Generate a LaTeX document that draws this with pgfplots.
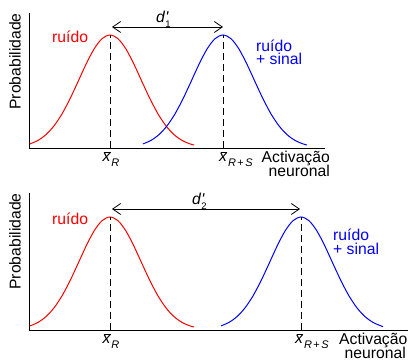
\documentclass[border=0pt]{standalone}
\usepackage{fontspec}
\setmainfont{Liberation Sans}
\usepackage{pgfplots}
\pgfplotsset{compat=1.18}
\usetikzlibrary{arrows.meta}
\newcommand{\lbl}{\fontsize{15.7}{18}\selectfont}
\newcommand{\subs}[1]{\raisebox{-4.5pt}{\fontsize{11}{13}\selectfont #1}}
\newcommand{\xbar}{\makebox[0pt][l]{\kern1.8pt\raisebox{9.6pt}{\rule{6.2pt}{0.8pt}}}\textit{x}}
\newcommand{\xR}{\xbar\kern0.5pt\subs{\textit{R}}}
\newcommand{\xRS}{\xbar\kern0.5pt\subs{\textit{R}\kern1.5pt+\kern1.5pt\textit{S}}}
\newcommand{\dprime}[1]{\textit{d}\rlap{\raisebox{0.5pt}{\textit{\textquotesingle}}}\raisebox{-4.5pt}{\fontsize{9.5}{11}\selectfont #1}}
\begin{document}
\begin{tikzpicture}[x=1pt,y=1pt]
\useasboundingbox (0,0) rectangle (408,361);
\pgfplotsset{every axis/.append style={scale only axis, axis lines=left,
  axis line style={-, line width=0.8pt}, ticks=none, clip=false,
  ymin=0, xmin=0}}
% ---------- top panel ----------
\begin{axis}[at={(29pt,213pt)}, anchor=south west, width=296pt, height=135pt,
  xmax=296, ymax=135]
\addplot[red, line width=1pt, smooth] coordinates {
(1,4.1) (9,7.6) (17,13.4) (25,22.1) (33,34.1) (41,49.2) (49,66.3) (57,83.7) (65,98.9) (73,109.3) (81,113)
(89,109.3) (97,98.9) (105,83.7) (113,66.3) (121,49.2) (129,34.1) (137,22.1) (145,13.4) (153,7.6) (161,4.1) (165,3.0)};
\addplot[blue, line width=1pt, smooth] coordinates {
(114,4.1) (122,7.6) (130,13.4) (138,22.1) (146,34.1) (154,49.2) (162,66.3) (170,83.7) (178,98.9) (186,109.3) (194,113)
(202,109.3) (210,98.9) (218,83.7) (226,66.3) (234,49.2) (242,34.1) (250,22.1) (258,13.4) (266,7.6) (274,4.1) (278,3.0)};
\addplot[black, line width=0.9pt, dash pattern=on 7pt off 4pt] coordinates {(81,0) (81,113)};
\addplot[black, line width=0.9pt, dash pattern=on 7pt off 4pt] coordinates {(194,0) (194,113)};
\draw[line width=0.8pt, {Straight Barb[length=8pt,width=11pt]}-{Straight Barb[length=8pt,width=11pt]}] (axis cs:83,121) -- (axis cs:194,121);
\end{axis}
% ---------- bottom panel ----------
\begin{axis}[at={(29pt,31pt)}, anchor=south west, width=379pt, height=137pt,
  xmax=379, ymax=137]
\addplot[red, line width=1pt, smooth] coordinates {
(1,4.1) (9,7.6) (17,13.4) (25,22.1) (33,34.1) (41,49.2) (49,66.3) (57,83.7) (65,98.9) (73,109.3) (81,113)
(89,109.3) (97,98.9) (105,83.7) (113,66.3) (121,49.2) (129,34.1) (137,22.1) (145,13.4) (153,7.6) (161,4.1) (165,3.0)};
\addplot[blue, line width=1pt, smooth] coordinates {
(192,4.1) (200,7.6) (208,13.4) (216,22.1) (224,34.1) (232,49.2) (240,66.3) (248,83.7) (256,98.9) (264,109.3) (272,113)
(280,109.3) (288,98.9) (296,83.7) (304,66.3) (312,49.2) (320,34.1) (328,22.1) (336,13.4) (344,7.6) (352,4.1) (354,3.4)};
\addplot[black, line width=0.9pt, dash pattern=on 7pt off 4pt] coordinates {(81,0) (81,113)};
\addplot[black, line width=0.9pt, dash pattern=on 7pt off 4pt] coordinates {(272,0) (272,113)};
\draw[line width=0.8pt, {Straight Barb[length=8pt,width=11pt]}-{Straight Barb[length=8pt,width=11pt]}] (axis cs:83,121) -- (axis cs:271,121);
\end{axis}
% ---------- text ----------
\begin{scope}[every node/.style={inner sep=0pt, font=\lbl}]
% top
\node[rotate=90] at (15,299.5) {Probabilidade};
\node[anchor=base west, text=red] at (52,318) {ruído};
\node[anchor=base west, text=blue] at (256,309) {ruído};
\node[anchor=base west, text=blue] at (256,296) {+ sinal};
\node[anchor=base west] at (156,338) {\dprime{1}};
\node[anchor=base] at (111,199) {\xR};
\node[anchor=base west] at (219,199) {\xRS};
\node[anchor=base east] at (330,198) {Activação};
\node[anchor=base east] at (330,184) {neuronal};
% bottom
\node[rotate=90] at (15,119.5) {Probabilidade};
\node[anchor=base west, text=red] at (52,136) {ruído};
\node[anchor=base west, text=blue] at (333,120) {ruído};
\node[anchor=base west, text=blue] at (333,106) {+ sinal};
\node[anchor=base west] at (192,156) {\dprime{2}};
\node[anchor=base] at (111,17) {\xR};
\node[anchor=base west] at (295,17) {\xRS};
\node[anchor=base east] at (407.5,16) {Activação};
\node[anchor=base east] at (406,2) {neuronal};
\end{scope}
\end{tikzpicture}
\end{document}
